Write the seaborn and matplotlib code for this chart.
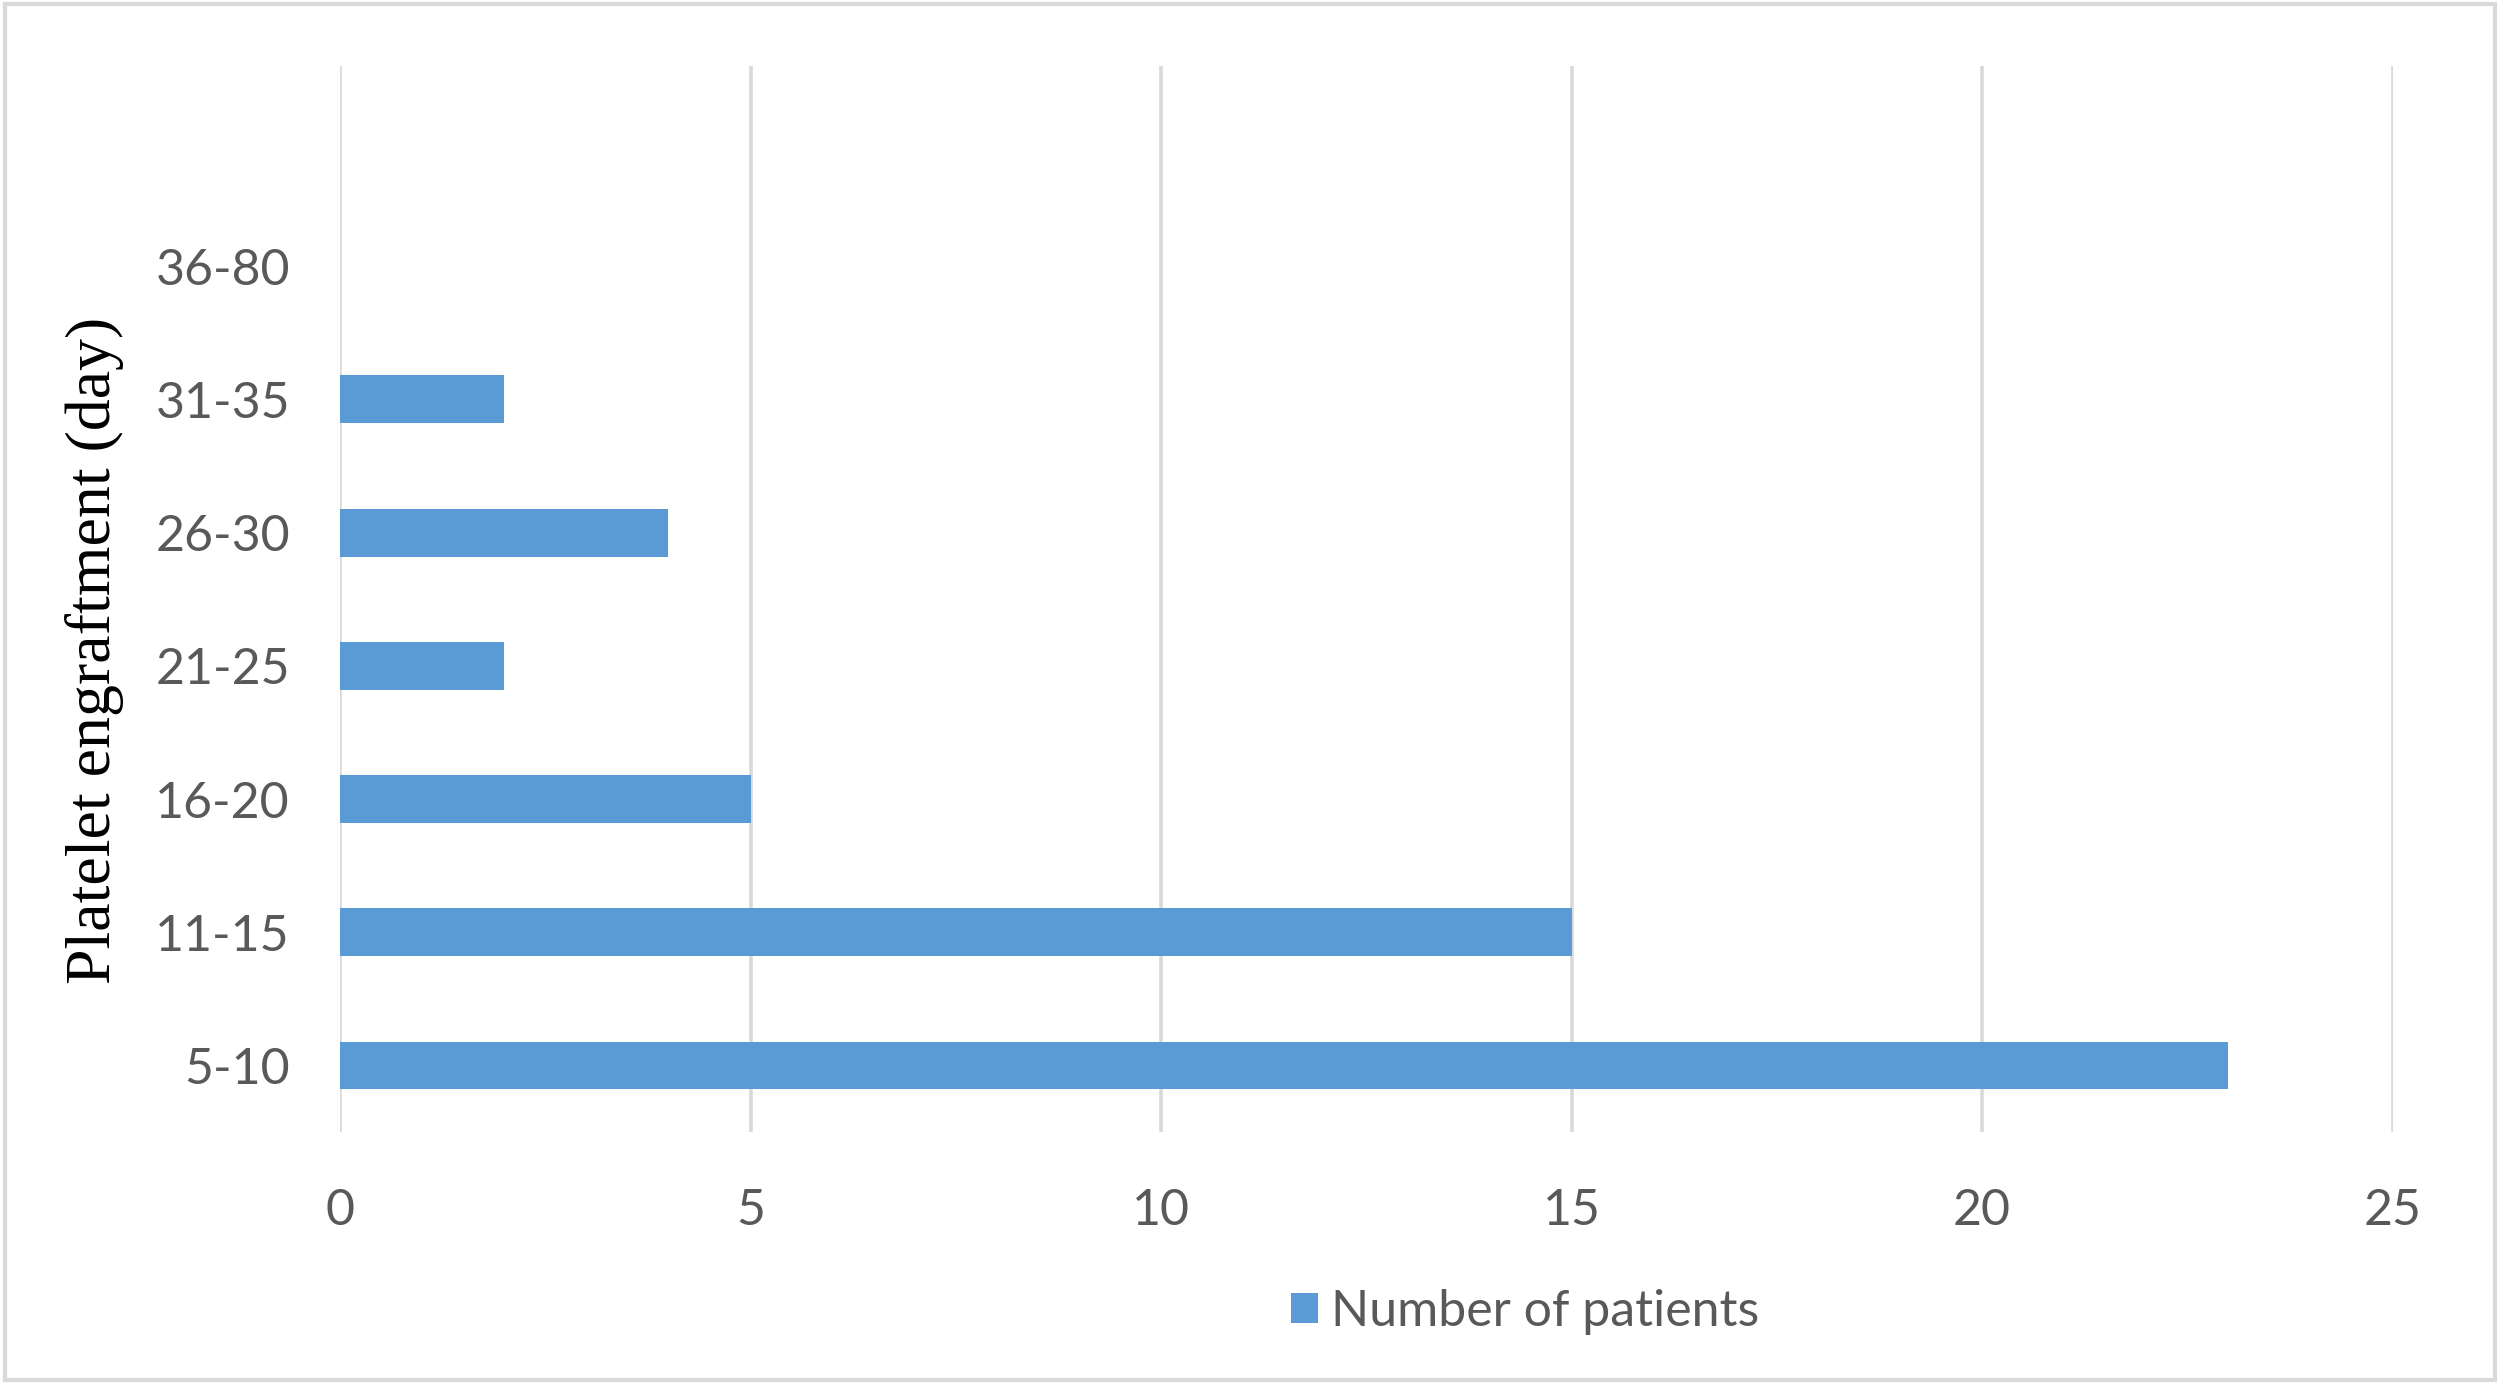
import pandas as pd
import matplotlib
matplotlib.use("Agg")
import matplotlib.pyplot as plt
import seaborn as sns
from matplotlib.patches import Patch, Rectangle

# data
ranges = ["5-10", "11-15", "16-20", "21-25", "26-30", "31-35", "36-80"]
patients = [23, 15, 5, 2, 4, 2, 0]
xticks = [0, 5, 10, 15, 20, 25]

df = pd.DataFrame({"range": ranges, "patients": patients})

sns.set_style("white")
plt.rcParams["font.family"] = ["Lato", "DejaVu Sans"]

bar_color = "#5b9bd5"
grey_text = "#595959"
grid_col = "#d9d9d9"

fig = plt.figure(figsize=(25, 13.84), dpi=100)
ax = fig.add_axes([0.136, 0.182, 0.821, 0.770])

# top category first so 5-10 ends at the bottom
sns.barplot(data=df, x="patients", y="range", order=ranges[::-1],
            color=bar_color, width=0.36, saturation=1, linewidth=0,
            edgecolor="none", ax=ax)

ax.set_xlim(0, 25)
ax.set_ylim(6.5, -1.5)
ax.set_xticks(xticks)
ax.set_xticklabels([str(t) for t in xticks])
ax.grid(axis="x", color=grid_col, linewidth=2.6)
ax.grid(axis="y", visible=False)
ax.set_axisbelow(True)
for s in ax.spines.values():
    s.set_visible(False)

ax.tick_params(axis="x", length=0, pad=40, labelsize=36, labelcolor=grey_text)
ax.tick_params(axis="y", length=0, pad=36, labelsize=36, labelcolor=grey_text)
ax.set_xlabel("")
ax.set_ylabel("")

fig.text(0.038, 0.53, "Platelet engraftment (day)", rotation=90,
         ha="center", va="center", fontsize=46, color="black",
         family=["Liberation Serif", "DejaVu Serif"])

handle = Patch(facecolor=bar_color, edgecolor="none", label="Number of patients")
fig.legend(handles=[handle], loc="center", bbox_to_anchor=(0.61, 0.052),
           frameon=False, fontsize=36, handlelength=0.55, handleheight=0.55,
           handletextpad=0.25, labelcolor=grey_text)

# light frame around the whole chart
fig.patches.append(Rectangle((0.002, 0.003), 0.996, 0.994, transform=fig.transFigure,
                             fill=False, edgecolor=grid_col, linewidth=3))

fig.savefig("out.png", dpi=100, facecolor="white")
